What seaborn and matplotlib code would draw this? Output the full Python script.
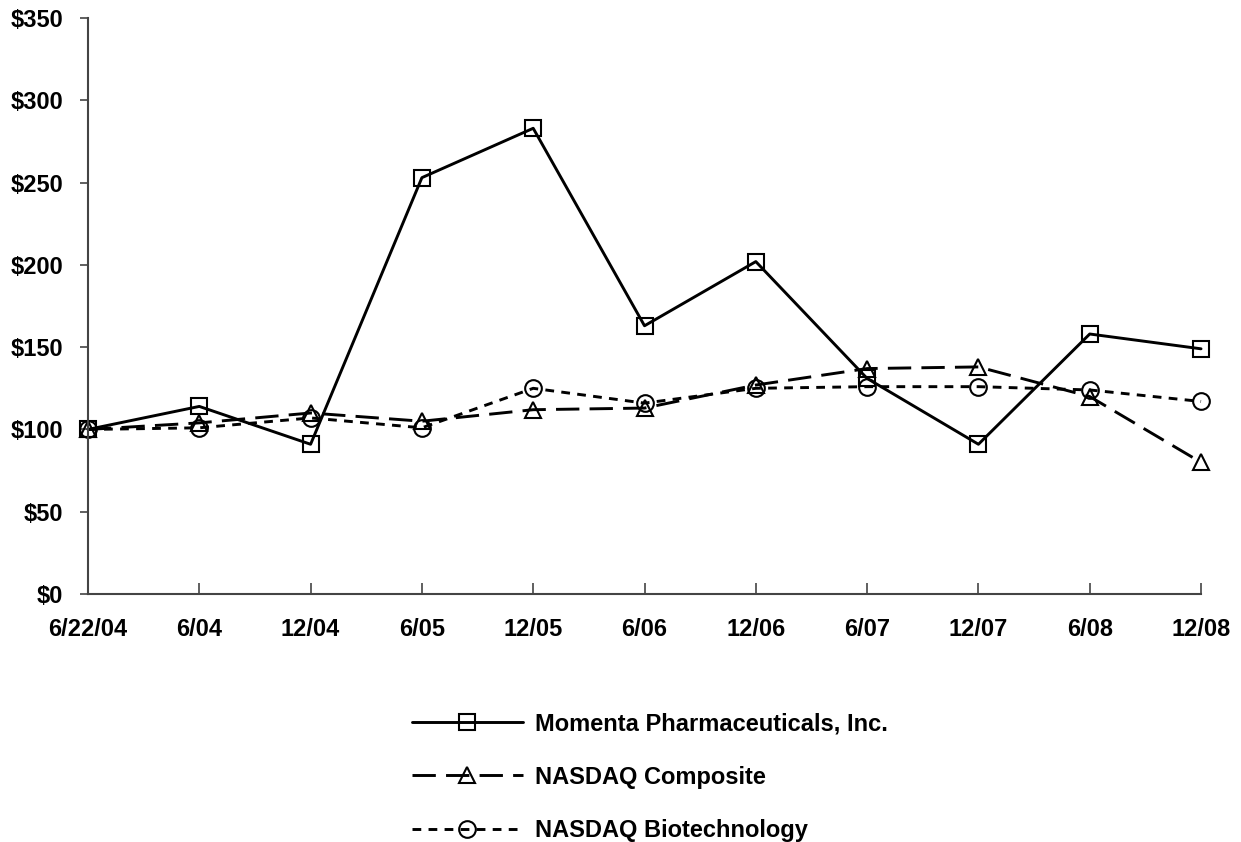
import matplotlib
matplotlib.use("Agg")
import matplotlib.pyplot as plt
import seaborn as sns
import pandas as pd

periods = ["6/22/04", "6/04", "12/04", "6/05", "12/05", "6/06",
           "12/06", "6/07", "12/07", "6/08", "12/08"]
momenta = [100, 114, 91, 253, 283, 163, 202, 131, 91, 158, 149]
nasdaq_comp = [100, 104, 110, 105, 112, 113, 127, 137, 138, 120, 80]
nasdaq_bio = [100, 101, 107, 101, 125, 116, 125, 126, 126, 124, 117]
series_names = ["Momenta Pharmaceuticals, Inc.", "NASDAQ Composite", "NASDAQ Biotechnology"]

rows = []
for name, vals in zip(series_names, [momenta, nasdaq_comp, nasdaq_bio]):
    for i, v in enumerate(vals):
        rows.append({"pos": i, "value": v, "series": name})
df = pd.DataFrame(rows)

sns.set_style("white")
plt.rcParams["font.family"] = ["Liberation Sans", "DejaVu Sans"]
plt.rcParams["font.weight"] = "bold"
plt.rcParams["text.color"] = "black"

fig = plt.figure(figsize=(12.41, 8.42), dpi=100)
ax = fig.add_axes([0.0709, 0.2945, 0.8969, 0.6841])

sns.lineplot(
    data=df, x="pos", y="value", hue="series", style="series",
    palette=["black"] * 3,
    markers={series_names[0]: "s", series_names[1]: "^", series_names[2]: "o"},
    dashes={series_names[0]: "", series_names[1]: (8, 3.5), series_names[2]: (3, 2.5)},
    markersize=12, markerfacecolor="none", markeredgecolor="black",
    markeredgewidth=1.5, linewidth=2.1, ax=ax, legend=True,
)

ax.set_xlim(0, len(periods) - 1)
ax.set_ylim(0, 350)
ax.set_xticks(range(len(periods)))
ax.set_xticklabels(periods)
ax.set_yticks(range(0, 351, 50))
ax.set_yticklabels([f"${v}" for v in range(0, 351, 50)])
ax.set_xlabel("")
ax.set_ylabel("")
for lab in ax.get_xticklabels() + ax.get_yticklabels():
    lab.set_fontsize(17)
    lab.set_fontweight("bold")
    lab.set_color("black")

ax.tick_params(axis="x", direction="in", length=8, width=1.2, pad=17, bottom=True,
               color="#444444")
ax.tick_params(axis="y", direction="out", length=6, width=1.2, pad=12, left=True,
               color="#444444")
for side in ["top", "right"]:
    ax.spines[side].set_visible(False)
for side in ["left", "bottom"]:
    ax.spines[side].set_color("#444444")
    ax.spines[side].set_linewidth(1.5)
for line in ax.lines:
    line.set_clip_on(False)

handles, labels = ax.get_legend_handles_labels()
ax.get_legend().remove()
fig.legend(handles, labels, loc="upper left", bbox_to_anchor=(0.332, 0.154),
           frameon=False, handlelength=4.7, labelspacing=1.28, borderpad=0,
           borderaxespad=0, prop={"size": 17, "weight": "bold"}, handletextpad=0.5)

fig.savefig("out.png", dpi=100)
